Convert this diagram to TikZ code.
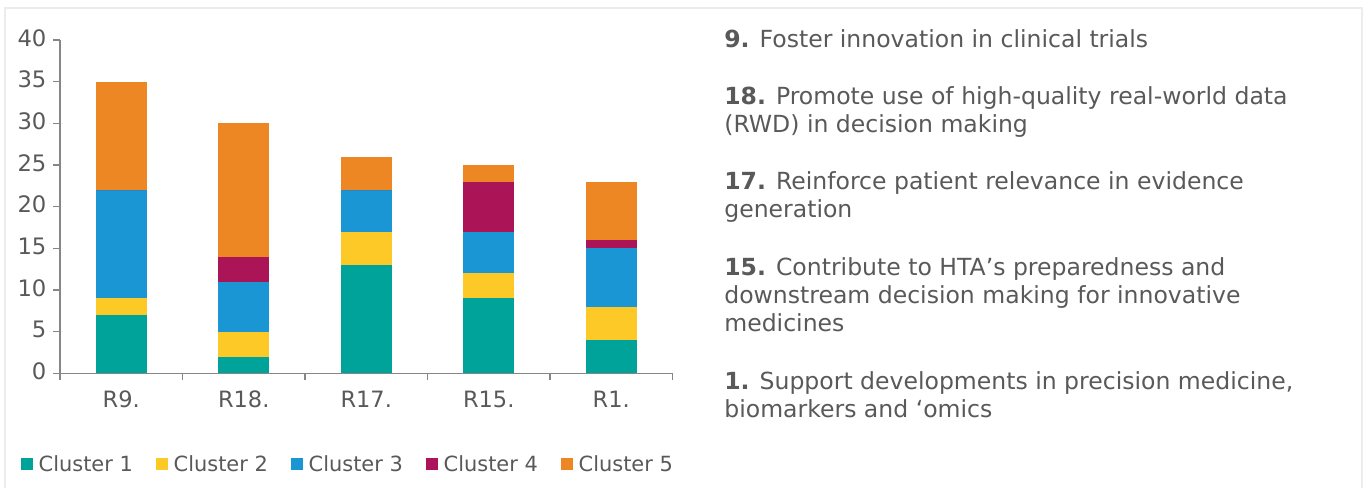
\documentclass[tikz,border=0pt]{standalone}
\usepackage{fontspec}
\setmainfont{DejaVu Sans}
\usepackage{xcolor}
\usetikzlibrary{positioning}

\definecolor{clone}{HTML}{00A39A}
\definecolor{cltwo}{HTML}{FCC926}
\definecolor{clthree}{HTML}{1B96D4}
\definecolor{clfour}{HTML}{AB1456}
\definecolor{clfive}{HTML}{EC8723}
\definecolor{txtgray}{HTML}{595959}
\definecolor{axgray}{HTML}{868686}
\definecolor{framegray}{HTML}{ECECEC}

\tikzset{
  axis/.style={draw=axgray, line width=0.7pt},
  ticklabel/.style={text=txtgray, inner sep=0pt, font=\fontsize{12.9}{15}\selectfont},
  catlabel/.style={text=txtgray, inner sep=0pt, anchor=base, font=\fontsize{12.8}{15}\selectfont},
  legkey/.style={minimum size=0.24cm, inner sep=0pt},
  legtext/.style={text=txtgray, inner sep=0pt, font=\fontsize{11.9}{14}\selectfont},
  recotext/.style={text=txtgray, inner sep=0pt, anchor=base west, align=left,
    font=\fontsize{13.4}{15.93}\selectfont}
}

\begin{document}
\begin{tikzpicture}[x=0.02cm, y=-0.02cm]
    % page and frame
    \useasboundingbox (0,0) rectangle (1367,488);
    \draw[framegray, line width=0.85pt] (5,488) -- (5,8) -- (1362,8) -- (1362,488);

    % stacked bars, values on the y axis
    \begin{scope}[shift={(0,373.3)}, y=0.16667cm]
    \foreach \cx/\a/\b/\c/\d/\e in {121.25/7/9/22/22/35, 243.75/2/5/11/14/30,
        366.25/13/17/22/22/26, 488.75/9/12/17/23/25, 611.25/4/8/15/16/23}
    {
        \fill[clone]   (\cx-25.5,0)  rectangle (\cx+25.5,\a);
        \fill[cltwo]   (\cx-25.5,\a) rectangle (\cx+25.5,\b);
        \fill[clthree] (\cx-25.5,\b) rectangle (\cx+25.5,\c);
        \fill[clfour]  (\cx-25.5,\c) rectangle (\cx+25.5,\d);
        \fill[clfive]  (\cx-25.5,\d) rectangle (\cx+25.5,\e);
    }

    % y axis
    \draw[axis] (60,0) -- (60,40);
    \foreach \v in {0,5,...,40}
        \draw[axis] (60,\v) -- (53,\v) node[ticklabel, anchor=east, xshift=-0.12cm, yshift=0.04cm] (y\v) {\v};
    \end{scope}

    % x axis
    \draw[axis] (60,373.3) -- (672.5,373.3);
    \foreach \x in {60,182.5,305,427.5,550,672.5}
        \draw[axis] (\x,373.3) -- (\x,379.5);
    \foreach \cx/\lab [count=\i] in {121.25/R9., 243.75/R18., 366.25/R17., 488.75/R15., 611.25/R1.}
        \node[catlabel] (cat\i) at (\cx,407) {\lab};

    % legend
    \foreach \col [count=\i] in {clone,cltwo,clthree,clfour,clfive}
    {
        \node[legkey, fill=\col] (key\i) at (27+135*\i-135,464) {};
        \node[legtext, right=0.1cm of key\i] (leg\i) {Cluster \i};
    }

    % recommendations (base = last line)
    \node[recotext] (rec9) at (724,47) {{\bfseries 9.} Foster innovation in clinical trials};
    \node[recotext] (rec18) at (724,132) {{\bfseries 18.} Promote use of high-quality real-world data\\(RWD) in decision making};
    \node[recotext] (rec17) at (724,217) {{\bfseries 17.} Reinforce patient relevance in evidence\\generation};
    \node[recotext] (rec15) at (724,331) {{\bfseries 15.} Contribute to HTA’s preparedness and\\downstream decision making for innovative\\medicines};
    \node[recotext] (rec1) at (724,417) {{\bfseries 1.} Support developments in precision medicine,\\biomarkers and ‘omics};
\end{tikzpicture}
\end{document}
